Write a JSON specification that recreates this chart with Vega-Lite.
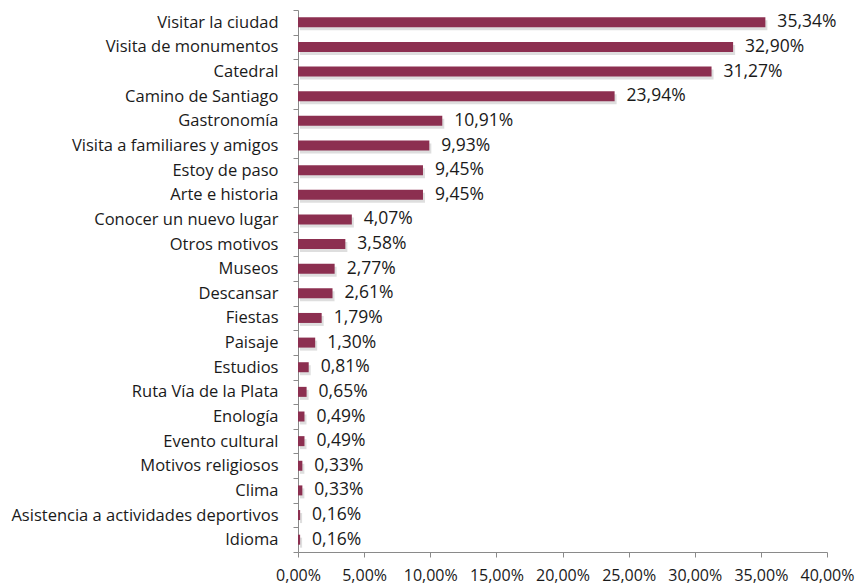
{
  "$schema": "https://vega.github.io/schema/vega-lite/v6.json",
  "width": 529,
  "height": 542,
  "autosize": "none",
  "padding": {"left": 298, "top": 10, "right": 32, "bottom": 33},
  "background": "white",
  "config": {
    "locale": {"number": {"decimal": ",", "thousands": ".", "grouping": [3], "currency": ["", " €"]}},
    "view": {"stroke": null},
    "font": "Open Sans"
  },
  "data": {
    "values": [
      {"motivo": "Visitar la ciudad", "valor": 0.3534},
      {"motivo": "Visita de monumentos", "valor": 0.3290},
      {"motivo": "Catedral", "valor": 0.3127},
      {"motivo": "Camino de Santiago", "valor": 0.2394},
      {"motivo": "Gastronomía", "valor": 0.1091},
      {"motivo": "Visita a familiares y amigos", "valor": 0.0993},
      {"motivo": "Estoy de paso", "valor": 0.0945},
      {"motivo": "Arte e historia", "valor": 0.0945},
      {"motivo": "Conocer un nuevo lugar", "valor": 0.0407},
      {"motivo": "Otros motivos", "valor": 0.0358},
      {"motivo": "Museos", "valor": 0.0277},
      {"motivo": "Descansar", "valor": 0.0261},
      {"motivo": "Fiestas", "valor": 0.0179},
      {"motivo": "Paisaje", "valor": 0.0130},
      {"motivo": "Estudios", "valor": 0.0081},
      {"motivo": "Ruta Vía de la Plata", "valor": 0.0065},
      {"motivo": "Enología", "valor": 0.0049},
      {"motivo": "Evento cultural", "valor": 0.0049},
      {"motivo": "Motivos religiosos", "valor": 0.0033},
      {"motivo": "Clima", "valor": 0.0033},
      {"motivo": "Asistencia a actividades deportivos", "valor": 0.0016},
      {"motivo": "Idioma", "valor": 0.0016}
    ]
  },
  "encoding": {
    "y": {
      "field": "motivo",
      "type": "nominal",
      "sort": null,
      "title": null,
      "scale": {"paddingInner": 0, "paddingOuter": 0},
      "axis": {
        "domainColor": "#8a8a8a",
        "tickColor": "#8a8a8a",
        "tickSize": 5,
        "tickBand": "extent",
        "labelFontSize": 16.5,
        "labelColor": "#1a1a1a",
        "labelPadding": 15,
        "labelLimit": 300,
        "labelFont": "Open Sans"
      }
    },
    "x": {
      "field": "valor",
      "type": "quantitative",
      "title": null,
      "scale": {"domain": [0, 0.4], "nice": false},
      "axis": {
        "format": ".2%",
        "values": [0, 0.05, 0.1, 0.15, 0.2, 0.25, 0.3, 0.35, 0.4],
        "labelOverlap": false,
        "labelBound": false,
        "labelFlush": false,
        "grid": false,
        "domainColor": "#8a8a8a",
        "tickColor": "#8a8a8a",
        "tickSize": 5,
        "labelFontSize": 16,
        "labelColor": "#1a1a1a",
        "labelPadding": 10,
        "labelFont": "Open Sans"
      }
    }
  },
  "layer": [
    {
      "mark": {"type": "bar", "size": 10, "color": "#c8c8c8", "opacity": 0.6, "xOffset": 2, "yOffset": 3}
    },
    {
      "mark": {"type": "bar", "size": 10, "color": "#8c2f50"}
    },
    {
      "mark": {"type": "text", "align": "left", "baseline": "middle", "dx": 12, "fontSize": 17.5, "color": "#1a1a1a", "font": "Open Sans"},
      "encoding": {"text": {"field": "valor", "type": "quantitative", "format": ".2%"}}
    }
  ]
}
